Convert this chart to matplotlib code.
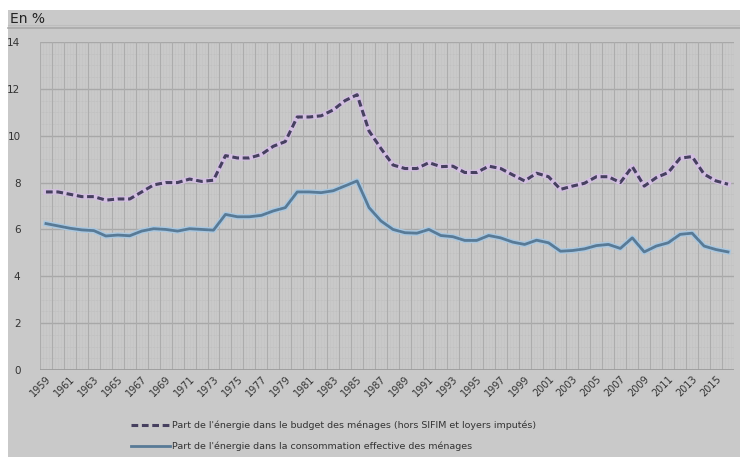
import matplotlib.pyplot as plt
import numpy as np

years = list(range(1959, 2017))

# Part de l'energie dans le budget des menages (hors SIFIM et loyers imputes)
budget = [7.6, 7.6, 7.5, 7.4, 7.4, 7.25, 7.3, 7.3, 7.6, 7.9,
          8.0, 8.0, 8.15, 8.05, 8.1, 9.15, 9.05, 9.05, 9.2, 9.55,
          9.75, 10.8, 10.8, 10.85, 11.1, 11.5, 11.75, 10.2, 9.45, 8.75,
          8.6, 8.6, 8.85, 8.68, 8.7, 8.43, 8.43, 8.7, 8.6, 8.33,
          8.07, 8.4, 8.25, 7.71, 7.85, 7.97, 8.25, 8.25, 8.0, 8.68,
          7.85, 8.21, 8.43, 9.04, 9.11, 8.36, 8.07, 7.93]

# Part de l'energie dans la consommation effective des menages
conso = [6.25, 6.15, 6.05, 5.98, 5.95, 5.72, 5.76, 5.73, 5.93, 6.03,
         6.0, 5.93, 6.03, 6.0, 5.97, 6.64, 6.54, 6.54, 6.6, 6.79,
         6.93, 7.6, 7.6, 7.57, 7.65, 7.86, 8.07, 6.93, 6.36, 6.0,
         5.86, 5.84, 6.0, 5.74, 5.69, 5.53, 5.53, 5.74, 5.64, 5.46,
         5.36, 5.54, 5.43, 5.07, 5.1, 5.17, 5.31, 5.36, 5.19, 5.64,
         5.04, 5.29, 5.43, 5.79, 5.84, 5.29, 5.14, 5.04]

label_budget = "Part de l'énergie dans le budget des ménages (hors SIFIM et loyers imputés)"
label_conso = "Part de l'énergie dans la consommation effective des ménages"

bg = '#c9c9c9'
fig = plt.figure(figsize=(7.4, 4.57), dpi=100)
fig.patch.set_facecolor('white')

# grey panel behind everything
fig.patches.append(plt.Rectangle((8 / 740, 0), 1, 1 - 10 / 457, transform=fig.transFigure,
                                 facecolor=bg, edgecolor='none', zorder=-10))
fig.lines.append(plt.Line2D([8 / 740, 1], [1 - 28 / 457] * 2, transform=fig.transFigure,
                            color='#a9a9a9', lw=1.2))
fig.lines.append(plt.Line2D([8 / 740, 1], [1 - 25 / 457] * 2, transform=fig.transFigure,
                            color='#bdbdbd', lw=0.8))
fig.text(10 / 740, 1 - 19 / 457, 'En %', fontsize=10, color='#222222', va='center')

ax = fig.add_axes([40 / 740, 1 - 370 / 457, 694 / 740, 328 / 457])
ax.set_facecolor(bg)

# grid: minor dotted + major solid
for yv in np.arange(0, 14.01, 0.5):
    ax.axhline(yv, color='#bcbcbc', lw=0.5, ls=(0, (1, 1)), zorder=0)
for yv in range(0, 15, 2):
    ax.axhline(yv, color='#a8a8a8', lw=1.0, zorder=1)
for xv in np.arange(1958.5, 2016.6, 1):
    ax.axvline(xv, color='#acacac', lw=0.8, zorder=1)
for xv in np.arange(1958.5, 2016.6, 0.25):
    ax.axvline(xv, color='#bdbdbd', lw=0.4, ls=(0, (1, 1)), zorder=0)

# halo lines
ax.plot(years, budget, color='#d2bfe0', lw=4, zorder=2)
ax.plot(years, conso, color='#a9c7e0', lw=4, zorder=2)
l1, = ax.plot(years, budget, color='#46405f', lw=2.2, ls=(0, (2.2, 1.2)), zorder=3,
              label=label_budget)
l2, = ax.plot(years, conso, color='#587a96', lw=2, zorder=3, label=label_conso)

ax.set_xlim(1958.5, 2016.5)
ax.set_ylim(0, 14)
ax.set_yticks(range(0, 15, 2))
ax.set_xticks(years[::2])
ax.set_xticklabels([str(y) for y in years[::2]], rotation=45, ha='right',
                   rotation_mode='anchor', fontsize=7, color='#333333')
ax.tick_params(axis='y', labelsize=7.5, colors='#333333', length=0, pad=14)
ax.tick_params(axis='x', length=0, pad=3)
for s in ax.spines.values():
    s.set_visible(False)
ax.axhline(0, color='#9a9a9a', lw=1.2, zorder=1)

fig.legend(handles=[l1, l2], loc='upper left', bbox_to_anchor=(122 / 740, 1 - 412 / 457),
           frameon=False, fontsize=6.8, handlelength=4.2, labelspacing=1.2,
           handletextpad=0.2, labelcolor='#333333')

fig.savefig('out.png', dpi=100, facecolor=fig.get_facecolor())
